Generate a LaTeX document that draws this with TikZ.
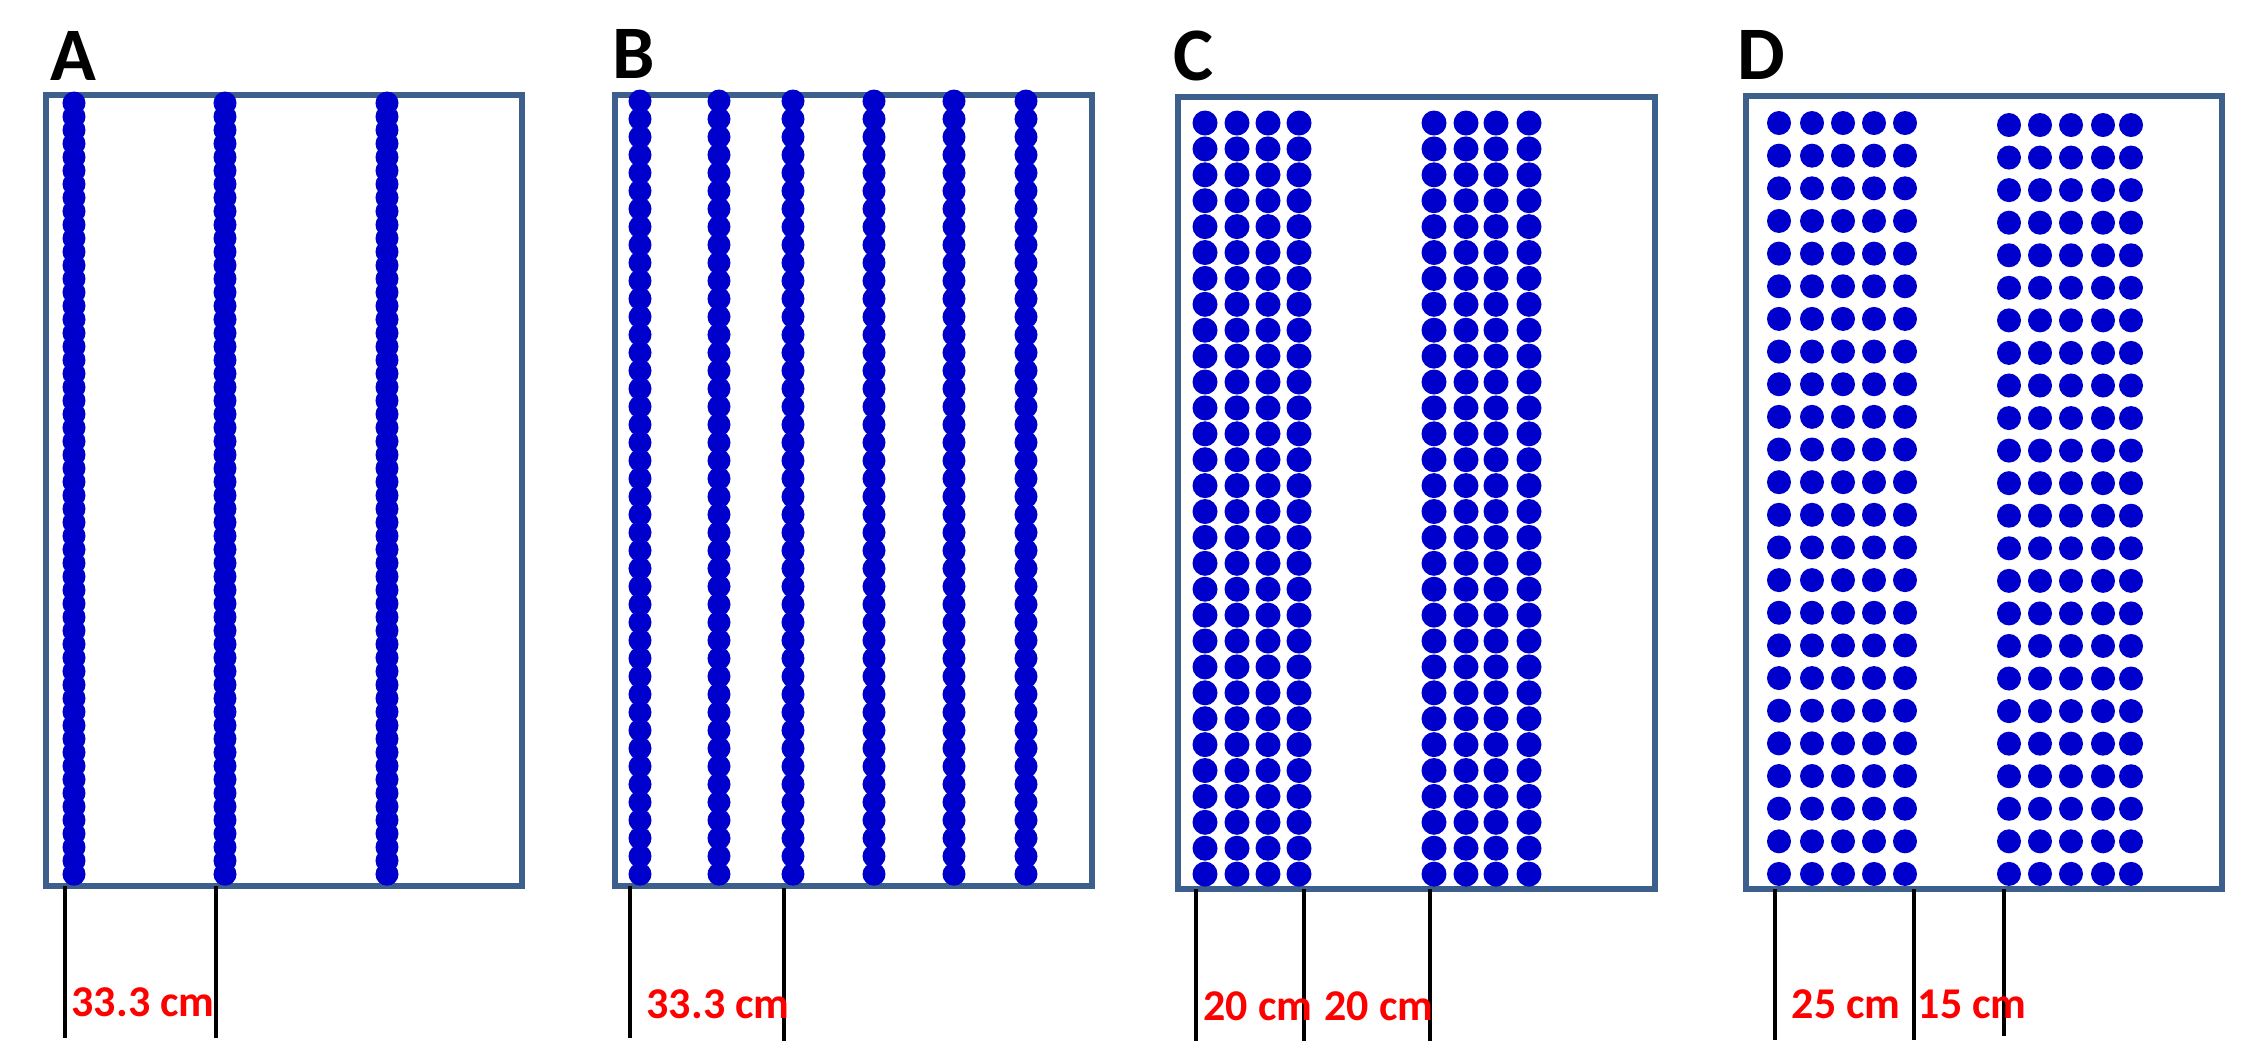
\documentclass[tikz,border=0pt]{standalone}
\usepackage{fontspec}
\setmainfont{Carlito}
\definecolor{fieldblue}{RGB}{60,95,140}
\definecolor{seedblue}{RGB}{0,0,204}

\begin{document}
\begin{tikzpicture}[x=0.01cm, y=-0.01cm,
    field/.style={draw=fieldblue, line width=1.6pt},
    seed/.style={fill=seedblue},
    tick/.style={draw=black, line width=1.2pt},
    panel/.style={font=\bfseries\fontsize{21.5}{24}\selectfont, inner sep=0pt, anchor=base west},
    dist/.style={text=red, font=\bfseries\fontsize{12.5}{14}\selectfont, inner sep=0pt, anchor=base west}
  ]
    \useasboundingbox (0,0) rectangle (2250,1059);

    % the four plots
    \draw[field] (46,95) rectangle (522,886);
    \draw[field] (615,95) rectangle (1092,886);
    \draw[field] (1178,97) rectangle (1655,889);
    \draw[field] (1746,96) rectangle (2222,889);

    \node[panel] (labA) at (50,80) {A};
    \node[panel] (labB) at (612,78) {B};
    \node[panel] (labC) at (1173,80) {C};
    \node[panel] (labD) at (1737,79) {D};

    % A: three single rows
    \foreach \x in {74,225,387}
      \foreach \i in {0,...,57}
        \fill[seed] (\x,{103+\i*13.53}) circle[radius=0.115cm];

    % B: six single rows
    \foreach \x in {640,719,793,874,954,1026}
      \foreach \i in {0,...,43}
        \fill[seed] (\x,{101+\i*17.98}) circle[radius=0.115cm];

    % C: two bands of four rows
    \foreach \x in {1205,1237,1268,1299,1434,1466,1496,1529}
      \foreach \i in {0,...,29}
        \fill[seed] (\x,{123+\i*25.9}) circle[radius=0.125cm];

    % D: two bands of five rows
    \foreach \x in {1779,1812,1843,1874,1905}
      \foreach \i in {0,...,23}
        \fill[seed] (\x,{123+\i*32.65}) circle[radius=0.12cm];
    \foreach \x in {2009,2040,2071,2103,2131}
      \foreach \i in {0,...,23}
        \fill[seed] (\x,{125+\i*32.56}) circle[radius=0.12cm];

    % spacing marks
    \draw[tick] (65,886) -- (65,1038);
    \draw[tick] (216,886) -- (216,1038);
    \node[dist] (distA) at (71,1016) {33.3 cm};

    \draw[tick] (630,886) -- (630,1038);
    \draw[tick] (784,888) -- (784,1041);
    \node[dist] (distB) at (646,1018) {33.3 cm};

    \draw[tick] (1196,889) -- (1196,1041);
    \draw[tick] (1304,889) -- (1304,1041);
    \draw[tick] (1430,889) -- (1430,1041);
    \node[dist] (distC1) at (1203,1020) {20 cm};
    \node[dist] (distC2) at (1324,1020) {20 cm};

    \draw[tick] (1775,889) -- (1775,1040);
    \draw[tick] (1914,889) -- (1914,1040);
    \draw[tick] (2004,889) -- (2004,1036);
    \node[dist] (distD1) at (1791,1018) {25 cm};
    \node[dist] (distD2) at (1917,1018) {15 cm};
  \end{tikzpicture}
\end{document}
